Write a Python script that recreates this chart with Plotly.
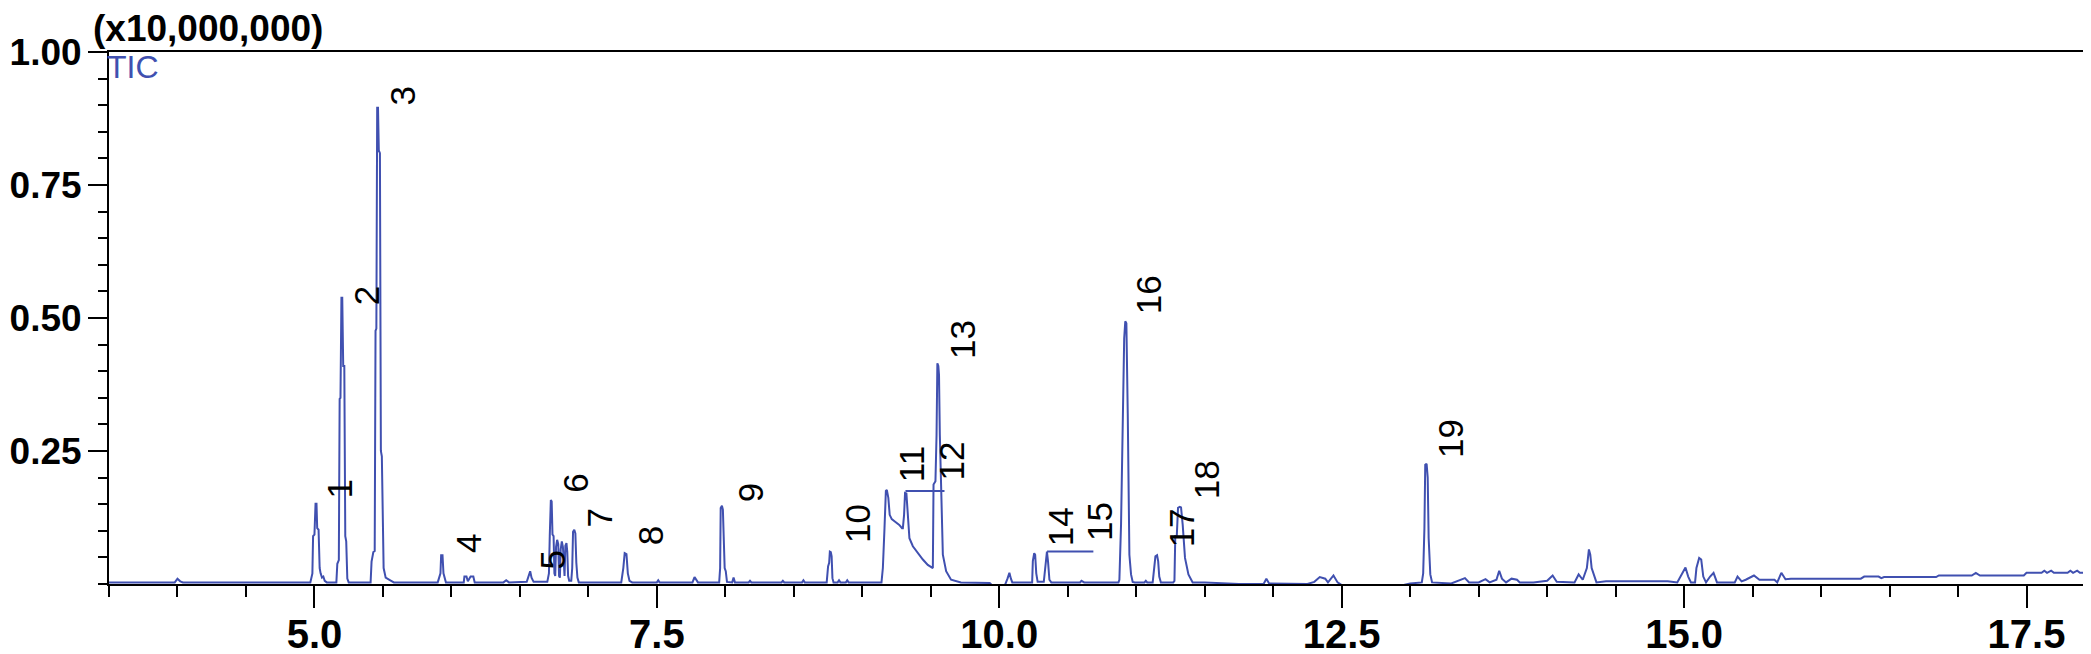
import plotly.graph_objects as go

# ── Style ──────────────────────────────────────────────────────────────────────
TRACE_BLUE = "#4050B0"
AXIS_BLACK = "#000000"
FONT_FAMILY = "Liberation Sans, Arial, sans-serif"

# ── Data (retention time in min, TIC in units of 1e7 counts) ───────────────────
rt_min = [
    3.50, 3.98, 4.00, 4.02, 4.04, 4.50, 4.97, 4.985, 4.99, 5.00,
    5.008, 5.015, 5.02, 5.03, 5.038, 5.045, 5.055, 5.065, 5.075, 5.09,
    5.16, 5.167, 5.178, 5.184, 5.19, 5.197, 5.203, 5.21, 5.218, 5.225,
    5.232, 5.24, 5.25, 5.41, 5.417, 5.43, 5.44, 5.446, 5.452, 5.458,
    5.464, 5.47, 5.478, 5.485, 5.492, 5.505, 5.52, 5.56, 5.58, 5.90,
    5.915, 5.92, 5.925, 5.935, 5.942, 5.948, 5.96, 6.09, 6.095, 6.11,
    6.12, 6.14, 6.16, 6.17, 6.38, 6.40, 6.42, 6.55, 6.565, 6.575,
    6.585, 6.60, 6.70, 6.712, 6.718, 6.726, 6.732, 6.738, 6.746, 6.752,
    6.758, 6.764, 6.772, 6.78, 6.786, 6.792, 6.798, 6.806, 6.814, 6.82,
    6.826, 6.832, 6.84, 6.846, 6.852, 6.86, 6.875, 6.882, 6.888, 6.897,
    6.905, 6.912, 6.92, 6.93, 7.24, 7.255, 7.265, 7.278, 7.288, 7.30,
    7.32, 7.50, 7.51, 7.52, 7.76, 7.775, 7.79, 7.80, 7.955, 7.962,
    7.966, 7.975, 7.982, 7.988, 7.995, 8.003, 8.012, 8.05, 8.06, 8.07,
    8.17, 8.18, 8.19, 8.41, 8.42, 8.43, 8.56, 8.57, 8.58, 8.74,
    8.75, 8.758, 8.763, 8.77, 8.776, 8.782, 8.79, 8.82, 8.83, 8.84,
    8.88, 8.89, 8.90, 9.14, 9.15, 9.162, 9.172, 9.179, 9.19, 9.20,
    9.215, 9.235, 9.27, 9.29, 9.296, 9.305, 9.312, 9.322, 9.332, 9.344,
    9.369, 9.405, 9.442, 9.478, 9.515, 9.52, 9.534, 9.542, 9.548, 9.555,
    9.56, 9.566, 9.575, 9.588, 9.612, 9.648, 9.72, 9.93, 9.95, 10.04,
    10.06, 10.074, 10.085, 10.095, 10.24, 10.245, 10.255, 10.262, 10.27, 10.28,
    10.325, 10.332, 10.34, 10.348, 10.356, 10.366, 10.38, 10.59, 10.60, 10.62,
    10.87, 10.877, 10.889, 10.901, 10.912, 10.92, 10.928, 10.938, 10.95, 10.962,
    10.974, 10.99, 11.06, 11.07, 11.08, 11.12, 11.13, 11.14, 11.152, 11.16,
    11.168, 11.18, 11.27, 11.279, 11.285, 11.296, 11.305, 11.318, 11.327, 11.339,
    11.356, 11.381, 11.412, 11.50, 11.75, 11.93, 11.95, 11.97, 12.25, 12.30,
    12.34, 12.38, 12.40, 12.44, 12.47, 12.50, 12.95, 13.00, 13.085, 13.095,
    13.104, 13.11, 13.12, 13.128, 13.135, 13.147, 13.16, 13.30, 13.40, 13.43,
    13.50, 13.55, 13.58, 13.63, 13.65, 13.67, 13.70, 13.74, 13.78, 13.80,
    13.90, 14.00, 14.04, 14.07, 14.20, 14.23, 14.26, 14.29, 14.305, 14.315,
    14.325, 14.34, 14.36, 14.43, 14.56, 14.68, 14.88, 14.95, 15.01, 15.03,
    15.05, 15.08, 15.09, 15.11, 15.125, 15.14, 15.16, 15.19, 15.215, 15.24,
    15.37, 15.39, 15.42, 15.45, 15.51, 15.55, 15.66, 15.68, 15.71, 15.74,
    15.78, 16.29, 16.315, 16.42, 16.44, 16.46, 16.84, 16.86, 17.10, 17.13,
    17.16, 17.48, 17.50, 17.61, 17.63, 17.65, 17.68, 17.70, 17.80, 17.82,
    17.84, 17.87, 17.89, 17.97, 18.00,
]
tic_1e7 = [
    0.003, 0.003, 0.010, 0.005, 0.003, 0.003, 0.003, 0.020, 0.090, 0.093,
    0.151, 0.151, 0.105, 0.102, 0.030, 0.020, 0.012, 0.014, 0.006, 0.003,
    0.003, 0.038, 0.045, 0.348, 0.350, 0.538, 0.538, 0.410, 0.410, 0.090,
    0.080, 0.010, 0.003, 0.003, 0.042, 0.060, 0.062, 0.476, 0.480, 0.895,
    0.895, 0.815, 0.810, 0.250, 0.240, 0.030, 0.012, 0.006, 0.003, 0.003,
    0.014, 0.020, 0.054, 0.054, 0.020, 0.012, 0.003, 0.003, 0.014, 0.014,
    0.005, 0.014, 0.014, 0.003, 0.003, 0.007, 0.003, 0.004, 0.018, 0.024,
    0.012, 0.004, 0.004, 0.020, 0.090, 0.158, 0.155, 0.093, 0.090, 0.020,
    0.015, 0.070, 0.083, 0.075, 0.015, 0.012, 0.065, 0.080, 0.070, 0.020,
    0.015, 0.072, 0.077, 0.060, 0.015, 0.006, 0.006, 0.030, 0.098, 0.102,
    0.095, 0.040, 0.012, 0.003, 0.003, 0.030, 0.058, 0.056, 0.020, 0.006,
    0.003, 0.003, 0.007, 0.003, 0.003, 0.013, 0.008, 0.003, 0.003, 0.030,
    0.143, 0.147, 0.140, 0.083, 0.030, 0.024, 0.004, 0.003, 0.012, 0.003,
    0.003, 0.006, 0.003, 0.003, 0.006, 0.003, 0.003, 0.007, 0.003, 0.003,
    0.033, 0.040, 0.061, 0.060, 0.052, 0.011, 0.003, 0.003, 0.007, 0.003,
    0.003, 0.007, 0.003, 0.003, 0.030, 0.105, 0.175, 0.177, 0.162, 0.130,
    0.122, 0.118, 0.111, 0.105, 0.105, 0.130, 0.171, 0.170, 0.130, 0.086,
    0.071, 0.058, 0.046, 0.036, 0.030, 0.187, 0.193, 0.280, 0.415, 0.410,
    0.393, 0.280, 0.180, 0.055, 0.024, 0.008, 0.003, 0.002, -0.003, -0.003,
    0.010, 0.021, 0.010, 0.003, 0.003, 0.043, 0.058, 0.055, 0.020, 0.004,
    0.004, 0.024, 0.040, 0.061, 0.042, 0.008, 0.003, 0.003, 0.006, 0.003,
    0.003, 0.008, 0.112, 0.321, 0.462, 0.494, 0.490, 0.321, 0.055, 0.018,
    0.004, 0.003, 0.003, 0.006, 0.003, 0.003, 0.030, 0.052, 0.054, 0.043,
    0.014, 0.003, 0.003, 0.006, 0.090, 0.090, 0.143, 0.145, 0.144, 0.112,
    0.049, 0.018, 0.003, 0.003, 0.000, 0.000, 0.010, 0.001, 0.000, 0.004,
    0.013, 0.010, 0.003, 0.016, 0.003, -0.002, -0.002, 0.001, 0.003, 0.020,
    0.105, 0.224, 0.226, 0.200, 0.086, 0.018, 0.003, 0.001, 0.011, 0.003,
    0.003, 0.009, 0.003, 0.008, 0.025, 0.010, 0.003, 0.010, 0.008, 0.003,
    0.003, 0.006, 0.016, 0.004, 0.003, 0.018, 0.008, 0.030, 0.065, 0.055,
    0.030, 0.017, 0.003, 0.005, 0.005, 0.005, 0.005, 0.003, 0.031, 0.014,
    0.003, 0.003, 0.030, 0.049, 0.046, 0.014, 0.003, 0.014, 0.021, 0.003,
    0.003, 0.014, 0.005, 0.008, 0.016, 0.008, 0.008, 0.003, 0.021, 0.009,
    0.010, 0.010, 0.014, 0.014, 0.011, 0.013, 0.013, 0.016, 0.016, 0.021,
    0.016, 0.016, 0.021, 0.021, 0.025, 0.021, 0.025, 0.021, 0.021, 0.025,
    0.021, 0.025, 0.021, 0.021, 0.027,
]

# peak numbers and where their (rotated) labels sit
peak_ids = [str(i) for i in range(1, 20)]
label_rt = [5.18, 5.38, 5.64, 6.12, 6.74, 6.90, 7.08, 7.45, 8.18, 8.96,
            9.36, 9.648, 9.73, 10.443, 10.731, 11.096, 11.33, 11.51, 13.29]
label_tic = [0.156, 0.52, 0.895, 0.055, 0.024, 0.168, 0.102, 0.068, 0.149, 0.074,
             0.187, 0.19, 0.419, 0.068, 0.077, 0.503, 0.065, 0.155, 0.234]

# leader lines joining co-eluting peaks (11-12 and 14-15)
bracket_rt = [9.315, 9.60, None, 10.349, 10.687]
bracket_tic = [0.175, 0.175, None, 0.061, 0.061]

x_major = [5.0, 7.5, 10.0, 12.5, 15.0, 17.5]
y_major = [0.25, 0.50, 0.75, 1.00]

fig = go.Figure()
fig.add_trace(go.Scatter(
    x=rt_min, y=tic_1e7, mode="lines",
    line=dict(color=TRACE_BLUE, width=2),
    hovertemplate="%{x:.3f} min<br>%{y:.3f}<extra></extra>",
))
fig.add_trace(go.Scatter(
    x=bracket_rt, y=bracket_tic, mode="lines",
    line=dict(color=TRACE_BLUE, width=2), hoverinfo="skip",
))

for pid, t, v in zip(peak_ids, label_rt, label_tic):
    fig.add_annotation(
        x=t, y=v, text=pid, textangle=-90, showarrow=False,
        xanchor="center", yanchor="bottom",
        font=dict(family=FONT_FAMILY, size=35, color=AXIS_BLACK),
    )

fig.add_annotation(
    xref="paper", yref="paper", x=-0.009, y=1.045, text="(x10,000,000)",
    showarrow=False, xanchor="left", yanchor="middle",
    font=dict(family=FONT_FAMILY, size=37, color=AXIS_BLACK, weight="bold"),
)
fig.add_annotation(
    xref="paper", yref="paper", x=-0.002, y=0.972, text="TIC",
    showarrow=False, xanchor="left", yanchor="middle",
    font=dict(family=FONT_FAMILY, size=32, color=TRACE_BLUE),
)

fig.update_layout(
    width=2091, height=654,
    margin=dict(l=101, r=4, t=44, b=78),
    paper_bgcolor="white", plot_bgcolor="white",
    showlegend=False,
    xaxis=dict(
        range=[3.5, 18.0], showgrid=False, zeroline=False, automargin=False,
        showline=True, linecolor=AXIS_BLACK, linewidth=2, mirror=True,
        layer="below traces",
        ticks="outside", ticklen=22, tickwidth=2, tickcolor=AXIS_BLACK,
        ticklabelstandoff=-8,
        tickvals=x_major, ticktext=[f"{v:.1f}" for v in x_major],
        tickfont=dict(family=FONT_FAMILY, size=40, color=AXIS_BLACK, weight="bold"),
        minor=dict(dtick=0.5, tick0=0, ticks="outside", ticklen=11,
                   tickwidth=2, tickcolor=AXIS_BLACK, showgrid=False),
    ),
    yaxis=dict(
        range=[0, 1.0], showgrid=False, zeroline=False, automargin=False,
        showline=True, linecolor=AXIS_BLACK, linewidth=2, mirror=True,
        ticks="outside", ticklen=19, tickwidth=2, tickcolor=AXIS_BLACK,
        ticklabelstandoff=-1,
        tickvals=y_major, ticktext=[f"{v:.2f}" for v in y_major],
        tickfont=dict(family=FONT_FAMILY, size=37, color=AXIS_BLACK, weight="bold"),
        minor=dict(dtick=0.05, tick0=0, ticks="outside", ticklen=9,
                   tickwidth=2, tickcolor=AXIS_BLACK, showgrid=False),
    ),
)

fig.write_html("out.html")
